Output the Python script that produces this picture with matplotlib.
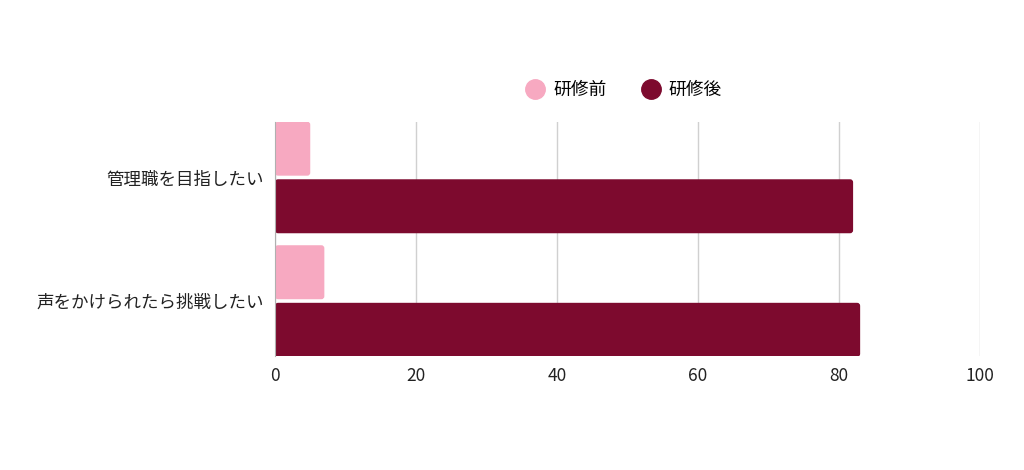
import numpy as np
import matplotlib.pyplot as plt
from matplotlib.lines import Line2D
from matplotlib.patches import FancyBboxPatch

plt.rcParams['font.family'] = ['Noto Sans CJK JP', 'DejaVu Sans']

categories = ['管理職を目指したい', '声をかけられたら挑戦したい']
series_names = ['研修前', '研修後']
before = [5, 7]
after = [82, 83]
colors = ['#F7A9C1', '#7D0A2E']
xticks = [0, 20, 40, 60, 80, 100]

fig = plt.figure(figsize=(10.24, 4.7), dpi=100)
ax = fig.add_axes([275 / 1024, 1 - 356 / 470, 705 / 1024, 234 / 470])

y = np.arange(len(categories))
h = 0.437
off = 0.233
bars1 = ax.barh(y - off, before, height=h, color=colors[0], zorder=3)
bars2 = ax.barh(y + off, after, height=h, color=colors[1], zorder=3)

# swap the plain bars for ones with slightly rounded corners
px_x = 705 / 100      # pixels per x unit
px_y = 234 / 1.894    # pixels per y unit
for bars, c in [(bars1, colors[0]), (bars2, colors[1])]:
    for b in bars:
        x0, y0 = b.get_x(), b.get_y()
        w, hh = b.get_width(), b.get_height()
        b.remove()
        p = FancyBboxPatch((x0, y0), w, hh,
                           boxstyle='round,pad=0,rounding_size=%f' % (3 / px_x),
                           mutation_aspect=px_x / px_y,
                           facecolor=c, edgecolor='none', zorder=3)
        ax.add_patch(p)

ax.set_xlim(0, 100)
ax.set_ylim(1.445, -0.449)
ax.set_xticks(xticks)
ax.set_xticklabels([str(t) for t in xticks], fontsize=12.5, color='#222222')
ax.set_yticks(y)
ax.set_yticklabels(categories, fontsize=12.6, color='#222222')
ax.tick_params(length=0, pad=8)
ax.tick_params(axis='y', pad=8)

ax.grid(axis='x', color='#D0D0D0', linewidth=1, zorder=0)
for s in ['top', 'right', 'bottom']:
    ax.spines[s].set_visible(False)
ax.spines['left'].set_color('#B0B0B0')
ax.spines['left'].set_zorder(4)

handles = [Line2D([0], [0], marker='o', linestyle='', markersize=14,
                  markerfacecolor=c, markeredgecolor=c) for c in colors]
fig.legend(handles=handles, labels=series_names, loc='center',
           bbox_to_anchor=(624 / 1024, 1 - 90 / 470), ncol=2, frameon=False,
           fontsize=12.8, handlelength=1.0, columnspacing=2.0, handletextpad=0.5)

fig.savefig('out.png', dpi=100)
